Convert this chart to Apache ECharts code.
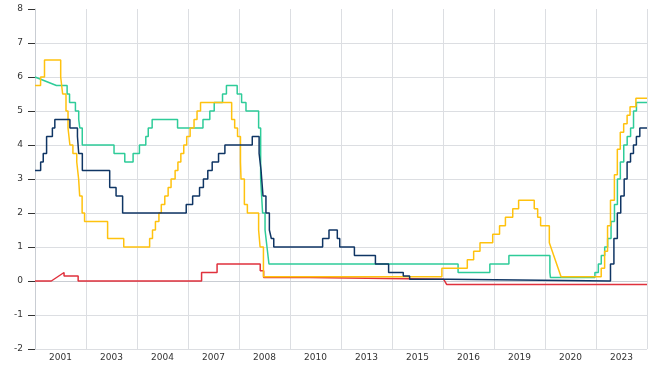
<!DOCTYPE html>
<html>
<head>
<meta charset="utf-8">
<script src="https://cdn.jsdelivr.net/npm/echarts@6/dist/echarts.min.js"></script>
<style>html,body{margin:0;padding:0;background:#fff;}#c{width:650px;height:370px;}</style>
</head>
<body>
<div id="c"></div>
<script>
// Visible x-axis labels (as shown on the reference)
const yearLabels = ['2001','2003','2004','2007','2008','2010','2013','2015','2016','2019','2020','2023'];
const startDate = '2000-01-01';
const endDate = '2024-01-01';

// Policy-rate change points: [date, rate]
const fed = [
  ['2000-01-01',5.75],['2000-03-21',6.0],['2000-05-16',6.5],['2001-01-03',6.0],['2001-01-31',5.5],
  ['2001-03-20',5.0],['2001-04-18',4.5],['2001-05-15',4.0],['2001-06-27',3.75],['2001-08-21',3.5],
  ['2001-09-17',3.0],['2001-10-02',2.5],['2001-11-06',2.0],['2001-12-11',1.75],['2002-11-06',1.25],
  ['2003-06-25',1.0],['2004-06-30',1.25],['2004-08-10',1.5],['2004-09-21',1.75],['2004-11-10',2.0],
  ['2004-12-14',2.25],['2005-02-02',2.5],['2005-03-22',2.75],['2005-05-03',3.0],['2005-06-30',3.25],
  ['2005-08-09',3.5],['2005-09-20',3.75],['2005-11-01',4.0],['2005-12-13',4.25],['2006-01-31',4.5],
  ['2006-03-28',4.75],['2006-05-10',5.0],['2006-06-29',5.25],['2007-09-18',4.75],['2007-10-31',4.5],
  ['2007-12-11',4.25],['2008-01-22',3.5],['2008-01-30',3.0],['2008-03-18',2.25],['2008-04-30',2.0],
  ['2008-10-08',1.5],['2008-10-29',1.0],['2008-12-16',0.125],['2015-12-16',0.375],['2016-12-14',0.625],
  ['2017-03-15',0.875],['2017-06-14',1.125],['2017-12-13',1.375],['2018-03-21',1.625],['2018-06-13',1.875],
  ['2018-09-26',2.125],['2018-12-19',2.375],['2019-07-31',2.125],['2019-09-18',1.875],['2019-10-30',1.625],
  ['2020-03-03',1.125],['2020-08-18',0.125],['2022-03-16',0.375],['2022-05-04',0.875],['2022-06-15',1.625],
  ['2022-07-27',2.375],['2022-09-21',3.125],['2022-11-02',3.875],['2022-12-14',4.375],['2023-02-01',4.625],
  ['2023-03-22',4.875],['2023-05-03',5.125],['2023-07-26',5.375]
];
const ecb = [
  ['2000-01-01',3.25],['2000-03-22',3.5],['2000-04-28',3.75],['2000-06-15',4.25],['2000-09-06',4.5],
  ['2000-10-11',4.75],['2001-05-15',4.5],['2001-08-31',4.25],['2001-09-18',3.75],['2001-11-09',3.25],
  ['2002-12-06',2.75],['2003-03-07',2.5],['2003-06-09',2.0],['2005-12-06',2.25],['2006-03-08',2.5],
  ['2006-06-15',2.75],['2006-08-09',3.0],['2006-10-11',3.25],['2006-12-13',3.5],['2007-03-14',3.75],
  ['2007-06-13',4.0],['2008-07-09',4.25],['2008-10-15',3.75],['2008-11-12',3.25],['2008-12-10',2.5],
  ['2009-01-21',2.0],['2009-03-11',1.5],['2009-04-08',1.25],['2009-05-13',1.0],['2011-04-13',1.25],
  ['2011-07-13',1.5],['2011-11-09',1.25],['2011-12-14',1.0],['2012-07-11',0.75],['2013-05-08',0.5],
  ['2013-11-13',0.25],['2014-06-11',0.15],['2014-09-10',0.05],['2016-03-16',0.0],['2022-07-27',0.5],
  ['2022-09-14',1.25],['2022-11-02',2.0],['2022-12-21',2.5],['2023-02-08',3.0],['2023-03-22',3.5],
  ['2023-05-10',3.75],['2023-06-21',4.0],['2023-08-02',4.25],['2023-09-20',4.5]
];
const boe = [
  ['2000-01-01',6.0],['2000-11-03',5.75],['2001-04-05',5.5],['2001-05-10',5.25],['2001-08-02',5.0],
  ['2001-09-18',4.75],['2001-10-04',4.5],['2001-11-08',4.0],['2003-02-06',3.75],['2003-07-10',3.5],
  ['2003-11-06',3.75],['2004-02-05',4.0],['2004-05-06',4.25],['2004-06-10',4.5],['2004-08-05',4.75],
  ['2005-08-04',4.5],['2006-08-03',4.75],['2006-11-09',5.0],['2007-01-11',5.25],['2007-05-10',5.5],
  ['2007-07-05',5.75],['2007-12-06',5.5],['2008-02-07',5.25],['2008-04-10',5.0],['2008-10-08',4.5],
  ['2008-11-06',3.0],['2008-12-04',2.0],['2009-01-08',1.5],['2009-02-05',1.0],['2009-03-05',0.5],
  ['2016-08-04',0.25],['2017-11-02',0.5],['2018-08-02',0.75],['2020-03-11',0.25],['2020-03-19',0.1],
  ['2021-12-16',0.25],['2022-02-03',0.5],['2022-03-17',0.75],['2022-05-05',1.0],['2022-06-16',1.25],
  ['2022-08-04',1.75],['2022-09-22',2.25],['2022-11-03',3.0],['2022-12-15',3.5],['2023-02-02',4.0],
  ['2023-03-23',4.25],['2023-05-11',4.5],['2023-06-22',5.0],['2023-08-03',5.25]
];
const boj = [
  ['2000-01-01',0],['2000-08-22',0],['2001-02-20',0.25],['2001-02-20',0.15],['2001-09-10',0],
  ['2006-07-14',0.25],['2007-02-21',0.5],['2008-10-31',0.3],['2008-12-19',0.1],['2010-10-05',0.05],
  ['2016-01-11',0.05],['2016-02-22',-0.1]
];
// change points reached by a straight (gap) segment instead of a step
const fedRamps = ['2020-08-18'];
const ecbRamps = [];
const boeRamps = ['2000-11-03'];
const bojRamps = ['2001-02-20','2016-02-22'];

function stepLine(entries, ramps) {
  const out = [];
  entries.forEach(function (e, i) {
    const d = e[0], v = e[1];
    if (i === 0) { out.push([d, v]); return; }
    const ramp = ramps.indexOf(d) >= 0 && entries[i - 1][0] !== d;
    if (!ramp) out.push([d, out[out.length - 1][1]]);
    out.push([d, v]);
  });
  out.push([endDate, out[out.length - 1][1]]);
  return out;
}

const chart = echarts.init(document.getElementById('c'), null, {renderer: 'canvas'});
const font = {fontFamily: 'DejaVu Sans', fontSize: 9, color: '#333'};
function mk(name, entries, ramps, color) {
  return {
    name: name, type: 'line', xAxisIndex: 1, yAxisIndex: 0,
    data: stepLine(entries, ramps), showSymbol: false, symbol: 'none',
    lineStyle: {width: 1.5, color: color}, itemStyle: {color: color},
    animation: false
  };
}
chart.setOption({
  animation: false,
  grid: {left: 35, right: 3, top: 9, bottom: 21, containLabel: false},
  xAxis: [
    {
      type: 'category', data: yearLabels, boundaryGap: true,
      axisLine: {show: true, lineStyle: {color: '#c9cdd3'}},
      axisTick: {show: false},
      axisLabel: Object.assign({margin: 4, interval: 0}, font),
      splitLine: {show: true, interval: 0, lineStyle: {color: '#dcdee2', width: 1}}
    },
    {type: 'time', min: +new Date(startDate), max: +new Date(endDate), show: false}
  ],
  yAxis: {
    type: 'value', min: -2, max: 8, interval: 1,
    axisLine: {show: true, lineStyle: {color: '#c9cdd3'}},
    axisTick: {show: true, length: 7, lineStyle: {color: '#333'}},
    axisLabel: Object.assign({margin: 12}, font),
    splitLine: {show: true, showMaxLine: false, lineStyle: {color: '#dcdee2', width: 1}}
  },
  series: [
    mk('BoJ', boj, bojRamps, '#e0313d'),
    mk('BoE', boe, boeRamps, '#2ecc99'),
    mk('Fed', fed, fedRamps, '#ffc20e'),
    mk('ECB', ecb, ecbRamps, '#0f3564')
  ]
});
</script>
</body>
</html>
